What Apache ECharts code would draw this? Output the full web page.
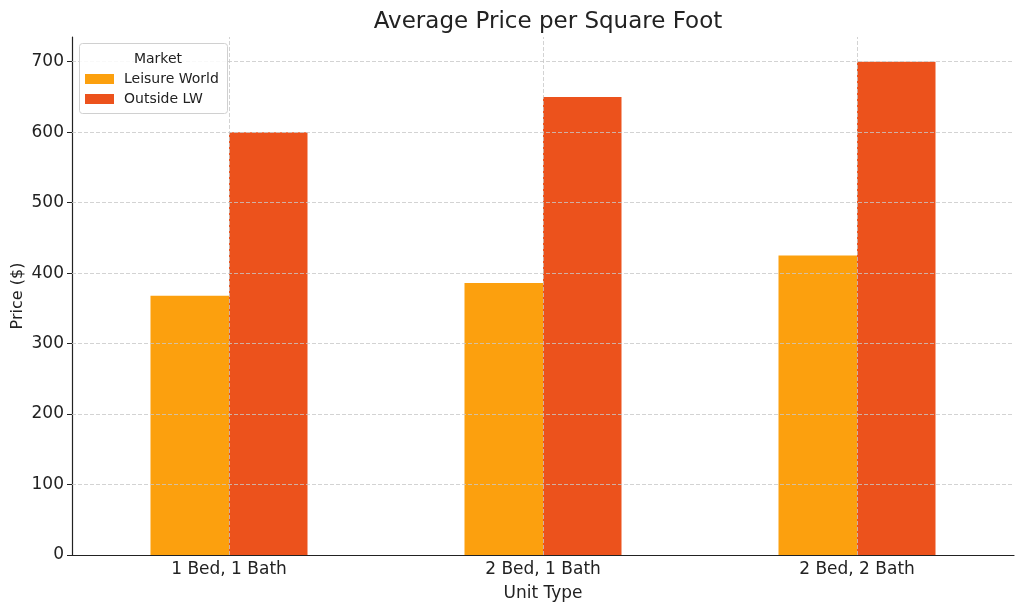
<!DOCTYPE html>
<html>
<head>
<meta charset="utf-8">
<script src="https://cdn.jsdelivr.net/npm/echarts@6/dist/echarts.min.js"></script>
<style>
  html, body { margin: 0; padding: 0; background: #fff; }
  #main { width: 1024px; height: 611px; }
</style>
</head>
<body>
<div id="main"></div>
<script>
// 数据
var unitTypes = ["1 Bed, 1 Bath", "2 Bed, 1 Bath", "2 Bed, 2 Bath"];
var leisureWorld = [368, 386, 425];
var outsideLW = [600, 650, 700];
var yTicks = [0, 100, 200, 300, 400, 500, 600, 700];

var chart = echarts.init(document.getElementById("main"));
var font = "DejaVu Sans";
var gridLine = { color: "#c8c8c8", type: [4, 2], width: 0.8 };

// 网格线（画在柱子上面）
var gridMarks = [];
unitTypes.forEach(function(u) { gridMarks.push({ xAxis: u }); });
yTicks.forEach(function(v) { if (v > 0) gridMarks.push({ yAxis: v }); });

var optionData = {
  animation: false,
  textStyle: { fontFamily: font, color: "#222" },
  title: [
    {
      text: "Average Price per Square Foot",
      left: 543,
      top: 6,
      textAlign: "center",
      textStyle: { fontFamily: font, fontSize: 23, fontWeight: "normal", color: "#222" }
    },
    {
      // 图例标题
      text: "Market",
      left: 153,
      top: 47,
      z: 120,
      textAlign: "center",
      textStyle: { fontFamily: font, fontSize: 14, fontWeight: "normal", color: "#222" }
    }
  ],
  graphic: [
    {
      type: "rect",
      left: 79,
      top: 43,
      z: 90,
      shape: { width: 148, height: 70, r: 3 },
      style: { fill: "rgba(255,255,255,0.85)", stroke: "#d0d0d0", lineWidth: 1 }
    }
  ],
  legend: {
    orient: "vertical",
    left: 80,
    top: 67,
    z: 100,
    itemWidth: 29,
    itemHeight: 10,
    itemGap: 6,
    icon: "rect",
    data: ["Leisure World", "Outside LW"],
    textStyle: { fontFamily: font, fontSize: 14, color: "#222", padding: [0, 0, 0, 5] }
  },
  grid: {
    left: 72,
    right: 10,
    top: 37,
    bottom: 56,
    containLabel: false,
    outerBoundsMode: "none"
  },
  xAxis: {
    type: "category",
    data: unitTypes,
    name: "Unit Type",
    nameLocation: "middle",
    nameGap: 30,
    nameTextStyle: { fontFamily: font, fontSize: 17, color: "#222" },
    axisLine: { lineStyle: { color: "#222", width: 1.2 } },
    axisTick: { alignWithLabel: true, length: 5, lineStyle: { color: "#222" } },
    axisLabel: { fontFamily: font, fontSize: 17, color: "#222", margin: 6 },
    splitLine: { show: false }
  },
  yAxis: {
    type: "value",
    min: 0,
    max: 735,
    interval: 100,
    name: "Price ($)",
    nameLocation: "middle",
    nameGap: 46,
    nameMoveOverlap: false,
    nameTextStyle: { fontFamily: font, fontSize: 16, color: "#222" },
    axisLine: { show: true, lineStyle: { color: "#222", width: 1.2 } },
    axisTick: { show: true, length: 5, customValues: yTicks, lineStyle: { color: "#222" } },
    axisLabel: { fontFamily: font, fontSize: 17, color: "#222", margin: 8, customValues: yTicks },
    splitLine: { show: false }
  },
  series: [
    {
      name: "Leisure World",
      type: "bar",
      barWidth: "25%",
      barGap: "0%",
      data: leisureWorld,
      itemStyle: { color: "#FCA00E" }
    },
    {
      name: "Outside LW",
      type: "bar",
      barWidth: "25%",
      barGap: "0%",
      data: outsideLW,
      itemStyle: { color: "#EC521C" }
    },
    {
      name: "grid",
      type: "line",
      z: 5,
      showSymbol: false,
      data: ["-", "-", "-"],
      markLine: {
        silent: true,
        symbol: "none",
        label: { show: false },
        lineStyle: gridLine,
        data: gridMarks
      }
    }
  ]
};
chart.setOption(optionData);
</script>
</body>
</html>
